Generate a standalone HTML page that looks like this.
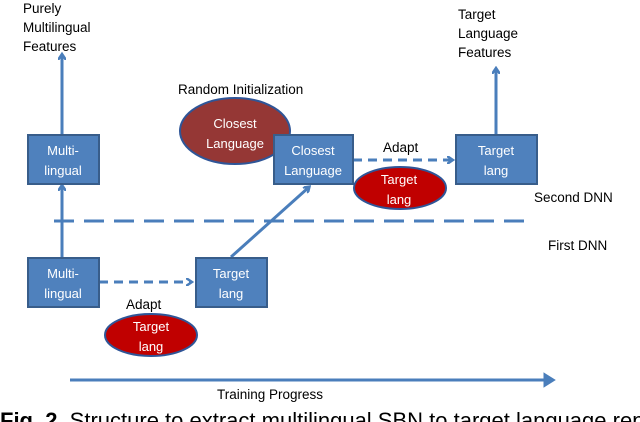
<!DOCTYPE html>
<html><head><style>
html,body{margin:0;padding:0;background:#fff;}
body{width:640px;height:422px;overflow:hidden;position:relative;}
svg{position:absolute;left:0;top:0;}
text{font-family:"Liberation Sans",sans-serif;}
</style></head><body>
<svg width="640" height="422" viewBox="0 0 640 422">
<defs>
<marker id="ah" markerWidth="8" markerHeight="8" refX="4" refY="4" orient="auto" markerUnits="userSpaceOnUse">
<path d="M0,0 L6,4 L0,8" fill="none" stroke="#4a7ebb" stroke-width="2.5"/>
</marker>
</defs>
<g stroke="#4a7ebb" stroke-width="3" fill="none">
<line x1="62" y1="134" x2="62" y2="56" marker-end="url(#ah)"/>
<line x1="62" y1="257" x2="62" y2="187" marker-end="url(#ah)"/>
<line x1="99" y1="282" x2="190" y2="282" stroke-dasharray="9,6" marker-end="url(#ah)"/>
<line x1="231" y1="257" x2="308" y2="188" marker-end="url(#ah)"/>
<line x1="353" y1="160" x2="451" y2="160" stroke-dasharray="9,6" marker-end="url(#ah)"/>
<line x1="496" y1="134" x2="496" y2="70" marker-end="url(#ah)"/>
<line x1="54" y1="221" x2="524" y2="221" stroke-dasharray="20,10"/>
<line x1="70" y1="380" x2="548" y2="380"/>
<path d="M545,375 L553,380 L545,385 Z" fill="#4a7ebb"/>
</g>
<ellipse cx="235" cy="131" rx="55" ry="33" fill="#953735" stroke="#2f5597" stroke-width="2"/>
<g fill="#4f81bd" stroke="#385d8a" stroke-width="2">
<rect x="28" y="135" width="71" height="49"/>
<rect x="28" y="258" width="71" height="49"/>
<rect x="196" y="258" width="71" height="49"/>
<rect x="274" y="135" width="79" height="49"/>
<rect x="456" y="135" width="81" height="49"/>
</g>
<ellipse cx="151" cy="335" rx="46" ry="21" fill="#c00000" stroke="#2f5597" stroke-width="2"/>
<ellipse cx="400" cy="188" rx="46" ry="21" fill="#c00000" stroke="#2f5597" stroke-width="2"/>
<g fill="#fff" font-size="13" text-anchor="middle">
<text x="63" y="155">Multi-</text><text x="63" y="175">lingual</text>
<text x="63" y="278">Multi-</text><text x="63" y="298">lingual</text>
<text x="231" y="278">Target</text><text x="231" y="298">lang</text>
<text x="313" y="155">Closest</text><text x="313" y="175">Language</text>
<text x="496" y="155">Target</text><text x="496" y="175">lang</text>
<text x="235" y="128">Closest</text><text x="235" y="148">Language</text>
<text x="151" y="331">Target</text><text x="151" y="351">lang</text>
<text x="399" y="184">Target</text><text x="399" y="204">lang</text>
</g>
<g fill="#000" font-size="13.5">
<text x="23" y="13">Purely</text><text x="23" y="32">Multilingual</text><text x="23" y="51">Features</text>
<text x="458" y="19">Target</text><text x="458" y="38">Language</text><text x="458" y="57">Features</text>
<text x="178" y="94">Random Initialization</text>
<text x="383" y="152">Adapt</text>
<text x="126" y="309">Adapt</text>
<text x="534" y="202">Second DNN</text>
<text x="548" y="250">First DNN</text>
<text x="217" y="399">Training Progress</text>
</g>
<text x="0" y="428" font-family="Liberation Serif,serif" font-size="22" fill="#000"><tspan font-weight="bold">Fig. 2.</tspan>  Structure to extract multilingual SBN to target language repr</text>
</svg>
</body></html>
